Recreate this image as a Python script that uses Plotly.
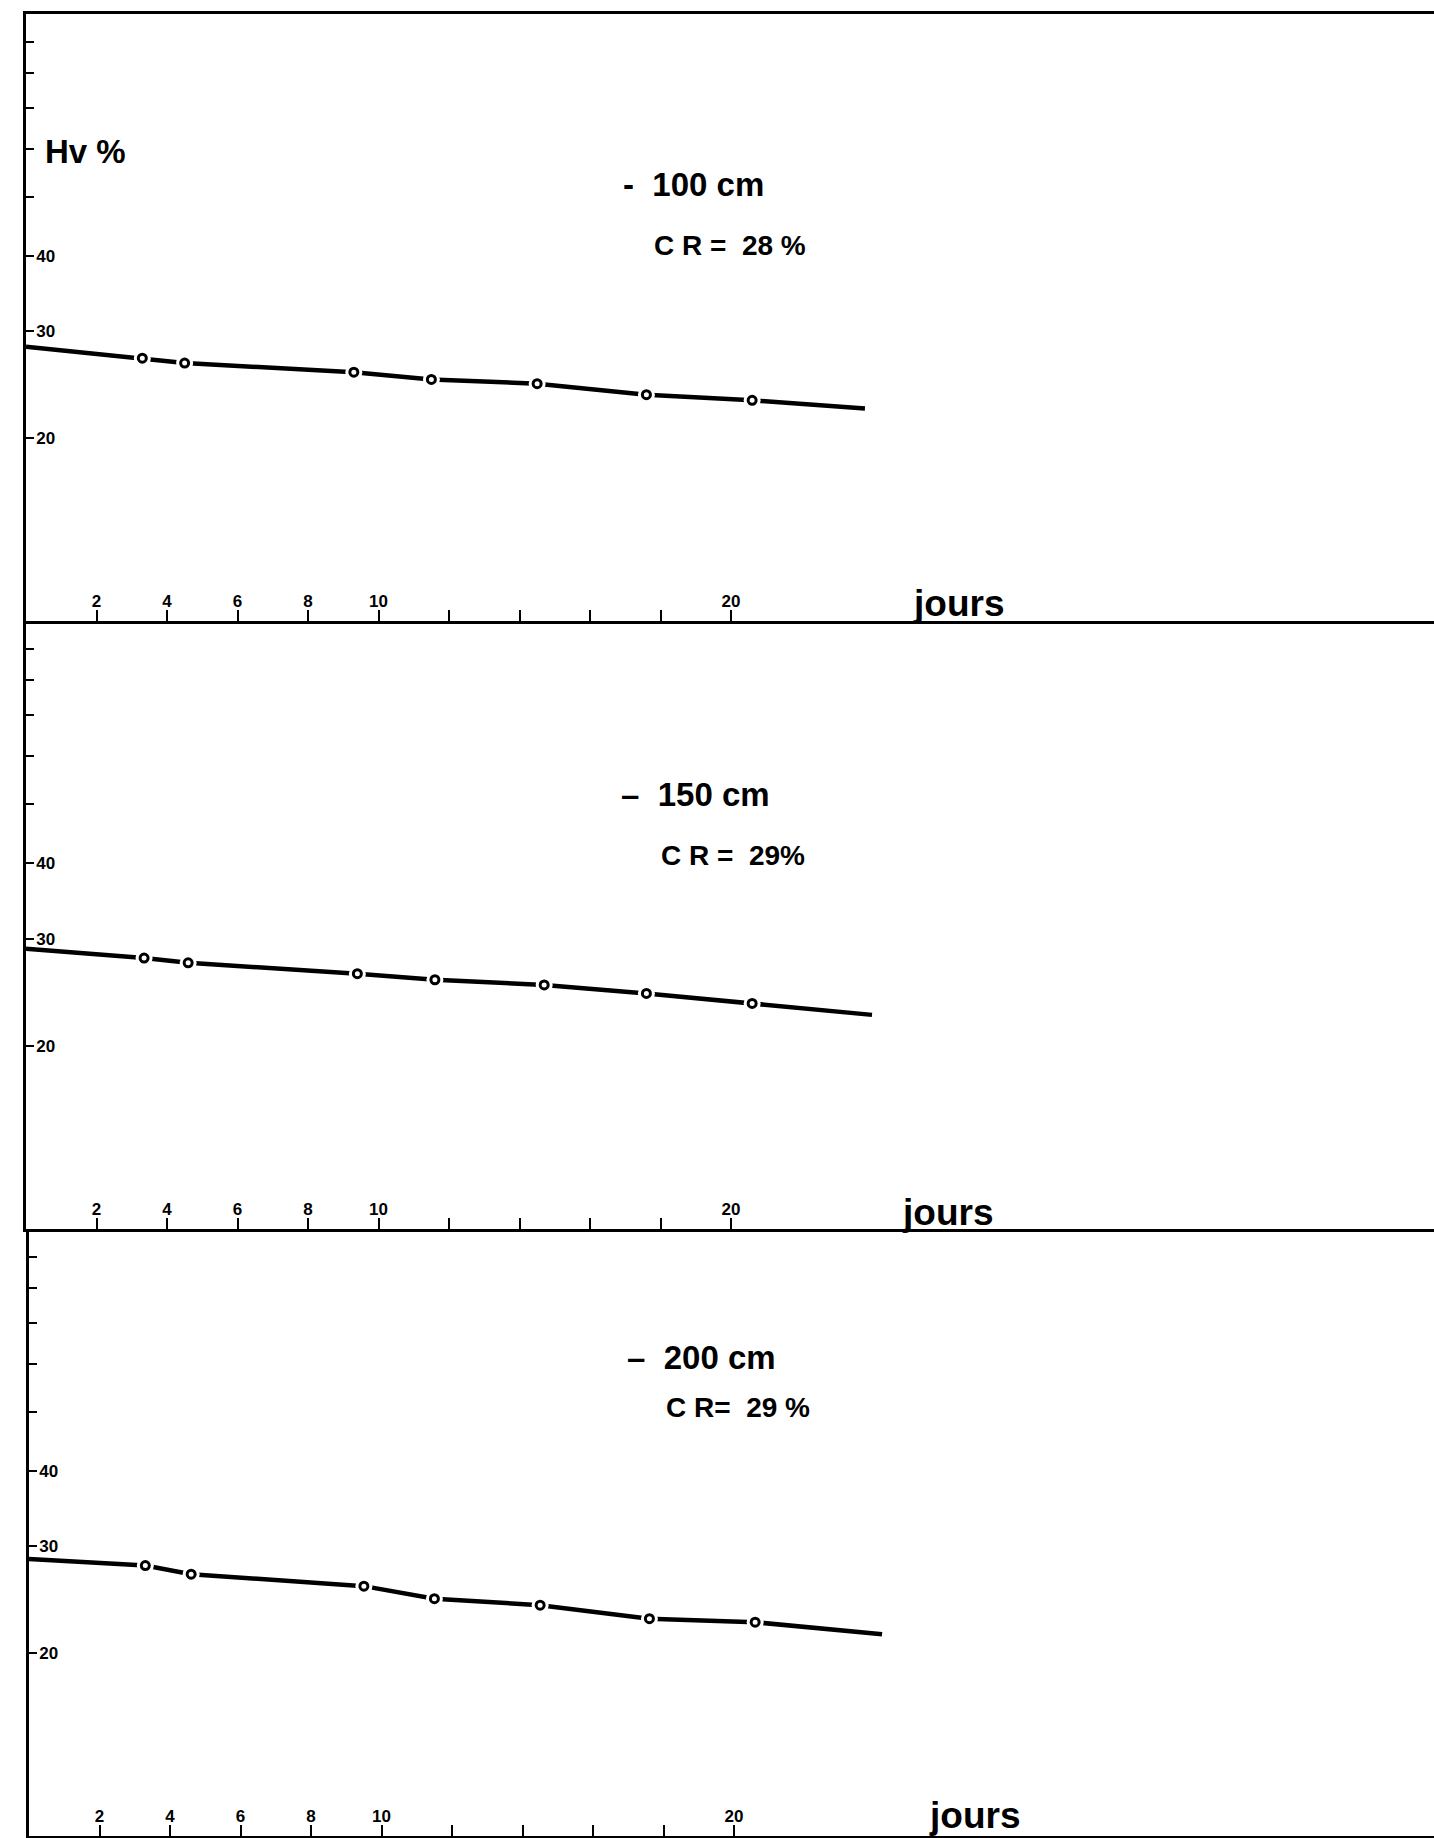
import plotly.graph_objects as go

W, H = 1434, 1838

# ---- data ----
depth_labels = ["-  100 cm", "–  150 cm", "–  200 cm"]
cr_labels = ["C R =  28 %", "C R =  29%", "C R=  29 %"]

days_100 = [0, 3.3, 4.5, 9.3, 11.5, 14.5, 17.6, 20.6, 23.8]
hv_100 = [28.3, 27.1, 26.6, 25.7, 25.0, 24.6, 23.6, 23.1, 22.4]

days_150 = [0, 3.35, 4.6, 9.4, 11.6, 14.7, 17.6, 20.6, 24.0]
hv_150 = [28.9, 27.9, 27.4, 26.3, 25.7, 25.2, 24.4, 23.5, 22.5]

days_200 = [0, 3.3, 4.6, 9.5, 11.5, 14.5, 17.6, 20.6, 24.2]
hv_200 = [28.6, 27.9, 27.0, 25.8, 24.6, 24.0, 22.8, 22.5, 21.5]

x_tickvals = [2, 4, 6, 8, 10, 12, 14, 16, 18, 20]
x_ticktext = ["2", "4", "6", "8", "10", "", "", "", "", "20"]
y_tickvals = [20, 30, 40, 50, 60, 70, 80, 90]
y_ticktext = ["20", "30", "40", "", "", "", "", ""]

series = [(days_100, hv_100), (days_150, hv_150), (days_200, hv_200)]

# ---- layout geometry (pixels) ----
panel_tops = [14, 621, 1229]
panel_bottoms = [621, 1229, 1836]
axis_left = [26, 26, 29]
px_per_day = 35.25

FONT = "Liberation Sans, Arial, sans-serif"
NARROW = "Liberation Sans Narrow, Liberation Sans, Arial, sans-serif"

fig = go.Figure()
layout = dict(
    width=W, height=H,
    margin=dict(l=0, r=0, t=0, b=0),
    paper_bgcolor="white", plot_bgcolor="white",
    showlegend=False,
    font=dict(family=FONT, color="black"),
)

for i, (xs, ys) in enumerate(series):
    n = "" if i == 0 else str(i + 1)
    xa, ya = "x" + n, "y" + n
    fig.add_trace(go.Scatter(x=xs, y=ys, mode="lines",
                             line=dict(color="black", width=4.5),
                             xaxis=xa, yaxis=ya, hoverinfo="skip"))
    fig.add_trace(go.Scatter(x=xs[1:-1], y=ys[1:-1], mode="markers",
                             marker=dict(size=17, color="white"),
                             xaxis=xa, yaxis=ya, hoverinfo="skip"))
    fig.add_trace(go.Scatter(x=xs[1:-1], y=ys[1:-1], mode="markers",
                             marker=dict(size=8, color="white", symbol="circle",
                                         line=dict(color="black", width=3)),
                             xaxis=xa, yaxis=ya, hoverinfo="skip"))
    x0 = axis_left[i]
    layout["xaxis" + n] = dict(
        domain=[x0 / W, 1], range=[0, (W - x0) / px_per_day],
        anchor=ya, showline=True, linecolor="black", linewidth=2.5,
        mirror=(i == 0), showgrid=False, zeroline=False,
        ticks="inside", ticklen=11, tickwidth=2, tickcolor="black",
        tickvals=x_tickvals, ticktext=x_ticktext,
        ticklabelposition="inside",
        tickfont=dict(family=NARROW, size=17, weight="bold", color="black"),
    )
    layout["yaxis" + n] = dict(
        domain=[1 - panel_bottoms[i] / H, 1 - panel_tops[i] / H],
        type="log", range=[1, 2], anchor=xa,
        showline=True, linecolor="black", linewidth=2.5,
        showgrid=False, zeroline=False,
        ticks="inside", ticklen=8, tickwidth=2, tickcolor="black",
        tickvals=y_tickvals, ticktext=y_ticktext,
        ticklabelposition="inside", ticklabelstandoff=3,
        tickfont=dict(family=NARROW, size=17, weight="bold", color="black"),
    )

fig.update_layout(**layout)

def ann(text, cx, cy, size, family=FONT):
    fig.add_annotation(text=text, x=cx / W, y=1 - cy / H, xref="paper", yref="paper",
                       showarrow=False, xanchor="center", yanchor="middle",
                       font=dict(family=family, size=size, weight="bold", color="black"))

ann("Hv %", 85, 152, 33)
depth_pos = [(693, 184), (695, 794), (701, 1357)]
cr_pos = [(730, 245), (733, 855), (738, 1407)]
jours_pos = [(958, 603), (948, 1212), (974, 1815)]
for i in range(3):
    ann(depth_labels[i], *depth_pos[i], 33)
    ann(cr_labels[i], *cr_pos[i], 28)
    ann("jours", *jours_pos[i], 37)

fig.write_html(
    "out.html",
    config={"displayModeBar": False},
    post_script="document.body.style.margin='0';document.body.style.overflow='hidden';",
)
